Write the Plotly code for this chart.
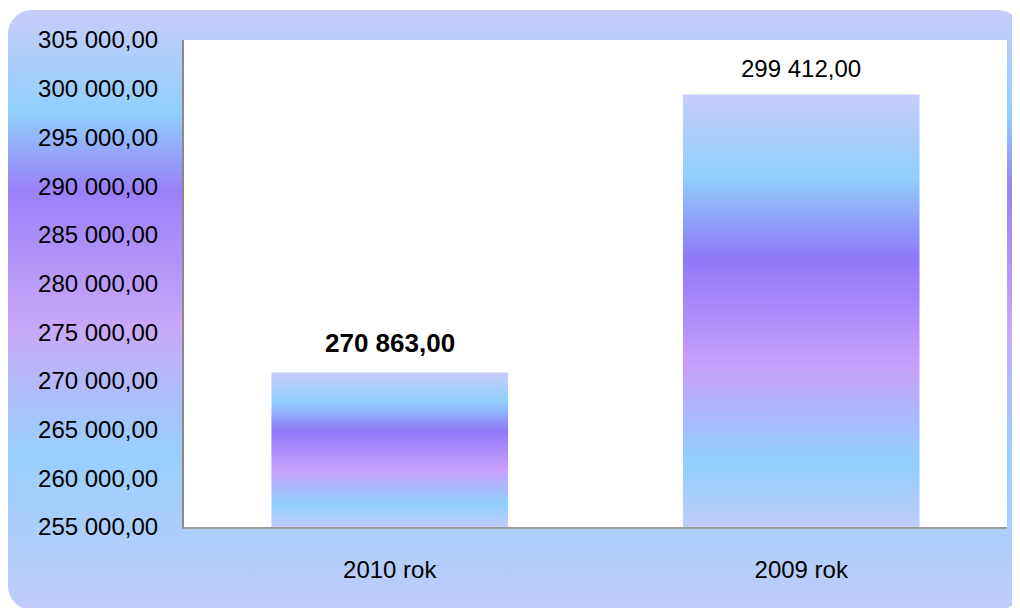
import base64
import plotly.graph_objects as go

# ---- data ----
categories = ["2010 rok", "2009 rok"]
values = [270863.00, 299412.00]
label_bold = [True, False]
y_min, y_max, y_step = 255000, 305000, 5000

# ---- layout constants (page has an 8px body margin) ----
W, H = 1012, 600
ML, MR, MT, MB = 176, 13, 32, 81
BAR_W = 0.575
FONT = "Liberation Sans, Arial, sans-serif"

bar_grad = [
    [0.00, "#c0ccfc"],
    [0.15, "#90d0fc"],
    [0.37, "#c8a0fc"],
    [0.62, "#9078f8"],
    [0.81, "#90d0fc"],
    [1.00, "#c8ccfc"],
]


def pl(v):
    return f"{v:,.2f}".replace(",", " ").replace(".", ",")


fig = go.Figure()
for i, (cat, v) in enumerate(zip(categories, values)):
    x0, x1 = i - BAR_W / 2, i + BAR_W / 2
    fig.add_trace(go.Scatter(
        x=[x0, x1, x1, x0, x0],
        y=[y_min, y_min, v, v, y_min],
        mode="lines", fill="toself",
        line=dict(width=0, color="rgba(0,0,0,0)"),
        fillgradient=dict(type="vertical", colorscale=bar_grad),
        hoverinfo="skip", showlegend=False, name=cat,
    ))
    fig.add_annotation(
        x=i, y=v, xref="x", yref="y", text=pl(v), showarrow=False,
        yanchor="middle", yshift=29 if label_bold[i] else 26,
        font=dict(family=FONT, size=26 if label_bold[i] else 24, color="#000000",
                  weight="bold" if label_bold[i] else "normal"),
    )

# background rounded panel with vertical gradient
svg = f'''<svg xmlns="http://www.w3.org/2000/svg" width="{W}" height="{H}" viewBox="0 0 {W} {H}">
<defs><linearGradient id="g" x1="0" y1="0" x2="0" y2="1">
<stop offset="0" stop-color="#c8ccfc"/>
<stop offset="0.17" stop-color="#90d0fc"/>
<stop offset="0.30" stop-color="#9a80f8"/>
<stop offset="0.53" stop-color="#c8a8f8"/>
<stop offset="0.74" stop-color="#98d0fc"/>
<stop offset="1" stop-color="#c0ccfc"/>
</linearGradient></defs>
<rect x="0" y="2" width="1014" height="600" rx="24" ry="24" fill="url(#g)"/>
</svg>'''
src = "data:image/svg+xml;base64," + base64.b64encode(svg.encode()).decode()
pw, ph = W - ML - MR, H - MT - MB
fig.add_layout_image(
    source=src, xref="paper", yref="paper",
    x=-ML / pw, y=1 + MT / ph, sizex=W / pw, sizey=H / ph,
    xanchor="left", yanchor="top", sizing="stretch", layer="below",
)
fig.add_shape(type="rect", xref="paper", yref="paper", x0=0, x1=1, y0=0, y1=1,
              fillcolor="white", line=dict(width=0), layer="below")

fig.update_layout(
    width=W, height=H, autosize=False,
    margin=dict(l=ML, r=MR, t=MT, b=MB, pad=0),
    paper_bgcolor="white", plot_bgcolor="white",
    separators=", ",
    showlegend=False,
    font=dict(family=FONT, size=24, color="#000000"),
)
fig.update_xaxes(
    range=[-0.5, len(categories) - 0.5],
    tickvals=list(range(len(categories))), ticktext=categories,
    showgrid=False, zeroline=False, ticks="",
    showline=True, linecolor="#9a9a9a", linewidth=2,
    ticklabelstandoff=20, tickfont=dict(family=FONT, size=24),
    fixedrange=True,
)
fig.update_yaxes(
    range=[y_min, y_max], dtick=y_step, tick0=y_min,
    tickformat=",.2f",
    showgrid=False, zeroline=False, ticks="",
    showline=True, linecolor="#8a8a8a", linewidth=2,
    ticklabelstandoff=19, tickfont=dict(family=FONT, size=24),
    fixedrange=True,
)

fig.write_html("out.html", config={"displayModeBar": False})
